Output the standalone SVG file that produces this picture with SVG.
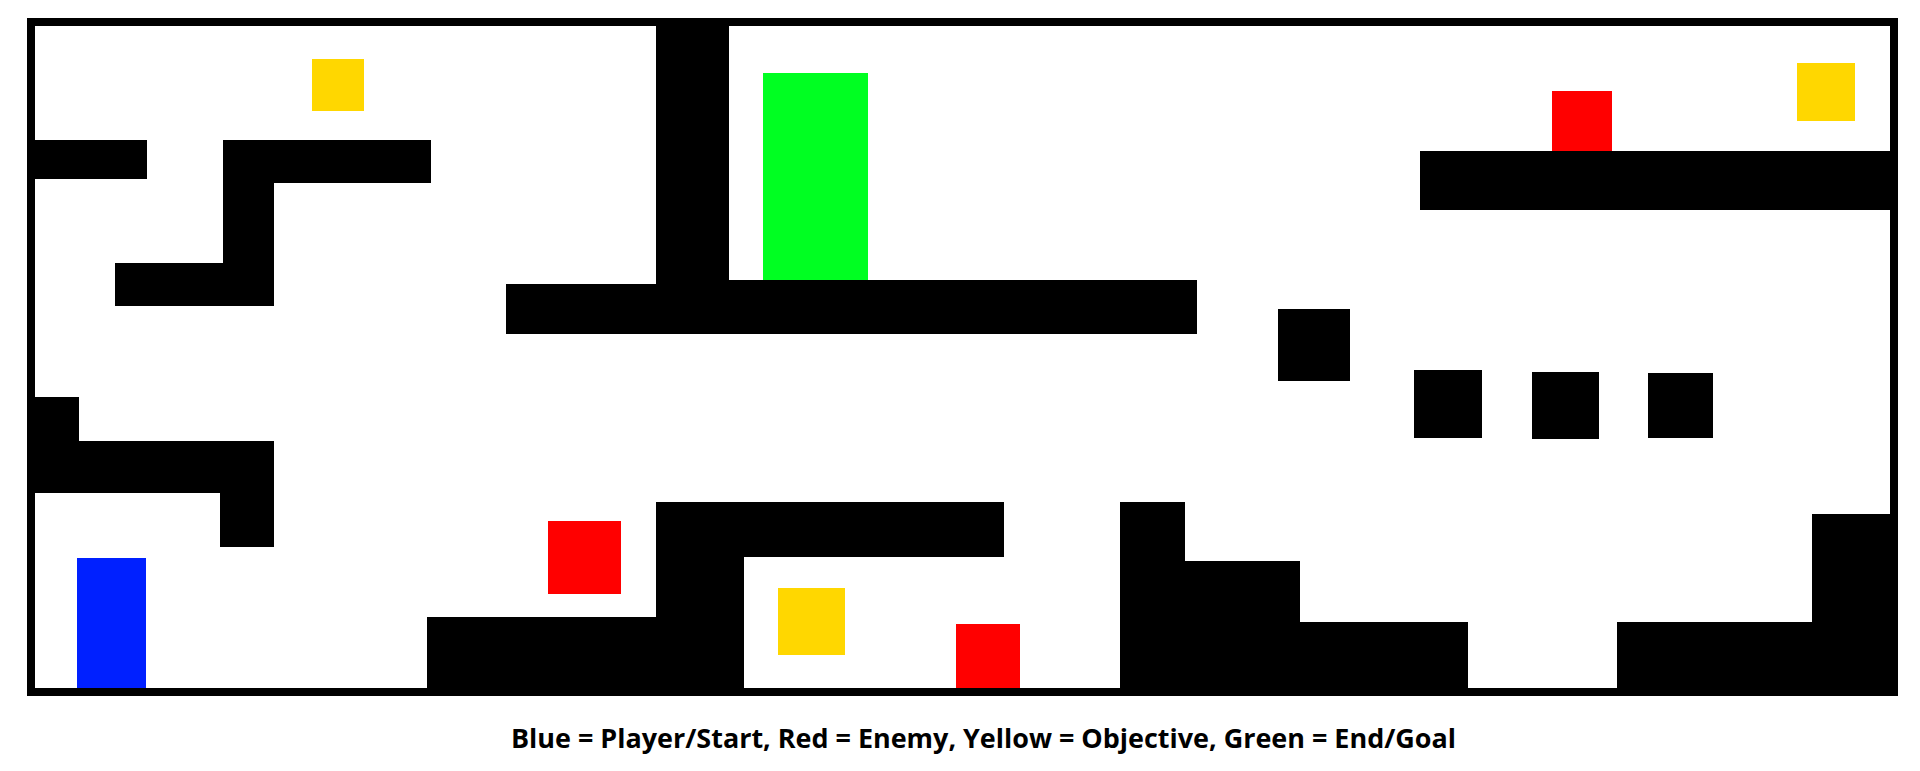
<svg xmlns="http://www.w3.org/2000/svg" width="1920" height="771" viewBox="0 0 1920 771">
<style>
.wall{fill:#000}
.player{fill:#0020ff}
.enemy{fill:#ff0000}
.obj{fill:#ffd700}
.goal{fill:#00ff22}
.legend{font-family:"Open Sans","Noto Sans",sans-serif;font-weight:bold;font-size:27px;fill:#000}
</style>
<rect width="1920" height="771" fill="#fff"/>
<g id="border"><rect x="31" y="22" width="1863" height="670" fill="none" stroke="#000" stroke-width="8"/></g>
<g id="walls">
<rect id="wall-top-left" class="wall" x="27" y="140" width="120" height="39"/>
<polygon id="wall-z" class="wall" points="223,140 431,140 431,183 274,183 274,306 115,306 115,263 223,263"/>
<polygon id="wall-t" class="wall" points="656,22 729,22 729,280 1197,280 1197,334 506,334 506,284 656,284"/>
<rect id="wall-top-right" class="wall" x="1420" y="151" width="474" height="59"/>
<polygon id="wall-left-mid" class="wall" points="27,397 79,397 79,441 274,441 274,547 220,547 220,493 27,493"/>
<rect id="block-1" class="wall" x="1278" y="309" width="72" height="72"/>
<rect id="block-2" class="wall" x="1414" y="370" width="68" height="68"/>
<rect id="block-3" class="wall" x="1532" y="372" width="67" height="67"/>
<rect id="block-4" class="wall" x="1648" y="373" width="65" height="65"/>
<polygon id="wall-bottom-u" class="wall" points="427,617 656,617 656,502 1004,502 1004,557 744,557 744,692 427,692"/>
<polygon id="wall-bottom-steps" class="wall" points="1120,502 1185,502 1185,561 1300,561 1300,622 1468,622 1468,692 1120,692"/>
<polygon id="wall-bottom-right" class="wall" points="1617,622 1812,622 1812,514 1894,514 1894,692 1617,692"/>
</g>
<g id="player"><rect class="player" x="77" y="558" width="69" height="130"/></g>
<g id="enemy-1"><rect class="enemy" x="1552" y="91" width="60" height="60"/></g>
<g id="enemy-2"><rect class="enemy" x="548" y="521" width="73" height="73"/></g>
<g id="enemy-3"><rect class="enemy" x="956" y="624" width="64" height="64"/></g>
<g id="objective-1"><rect class="obj" x="312" y="59" width="52" height="52"/></g>
<g id="objective-2"><rect class="obj" x="1797" y="63" width="58" height="58"/></g>
<g id="objective-3"><rect class="obj" x="778" y="588" width="67" height="67"/></g>
<g id="goal"><rect class="goal" x="763" y="73" width="105" height="207"/></g>
<g id="legend"><text class="legend" x="983.5" y="748" text-anchor="middle" textLength="945" lengthAdjust="spacingAndGlyphs">Blue = Player/Start, Red = Enemy, Yellow = Objective, Green = End/Goal</text></g>
</svg>
